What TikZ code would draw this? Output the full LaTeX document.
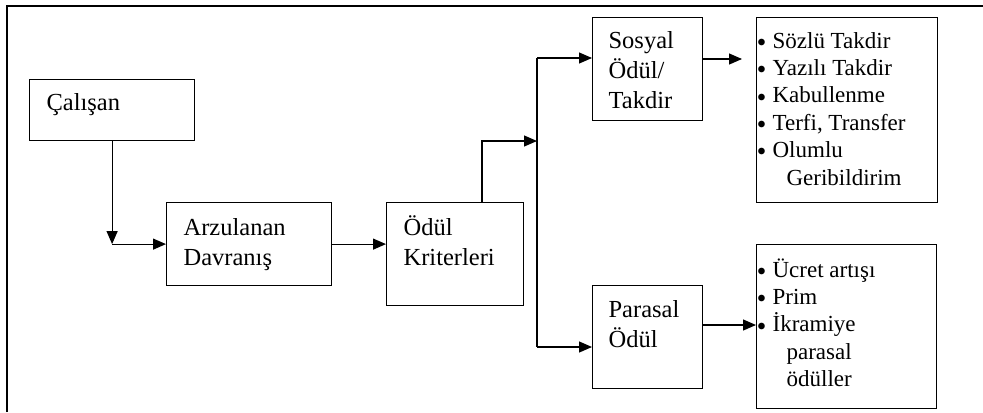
\documentclass[tikz,border=0pt]{standalone}
\usepackage{fontspec}
\setmainfont{Liberation Serif}
\usetikzlibrary{arrows.meta}

% small bullet and first-line-baseline text block
\newcommand\madde{\makebox[7pt][l]{\hspace*{-0.6pt}\raisebox{0.9pt}{\fontsize{8.5}{8.5}\selectfont$\bullet$}}}
\newcommand\metin[1]{\parbox[t]{88pt}{\raggedright #1}}

\begin{document}
\begin{tikzpicture}
  [x=0.5pt,y=-0.5pt,line width=0.6pt]
  \tikzstyle{kutu} = [draw,shape=rectangle,anchor=north west,inner sep=0pt]
  \tikzstyle{yazi} = [anchor=base west,inner sep=0pt,font=\fontsize{12.25}{15}\selectfont]
  \tikzstyle{liste} = [anchor=base west,inner sep=0pt,font=\fontsize{11.5}{13.7}\selectfont]
  \tikzstyle{ok} = [-{Triangle[length=6.5pt,width=5.5pt]}]
  \useasboundingbox (0,0) rectangle (983,412);

  % frame
  \draw[line width=1.1pt] (7,412) -- (7,6) -- (983,6);

  % boxes
  \foreach \isim/\x/\y/\w/\h in {calisan/29/79/165/61, arzu/166/202/165/83,
      kriter/386/202/137/103, sosyal/592/17/110/103, parasal/592/285/110/103,
      sosyalliste/756/17/181/185, parasalliste/756/244/180/164}
    \node[kutu,minimum width=\w*0.5pt,minimum height=\h*0.5pt] (\isim) at (\x,\y) {};

  % texts
  \node[yazi] (t1) at ([shift={(17,31)}]calisan.north west) {\metin{Çalışan}};
  \node[yazi] (t2) at ([shift={(17,33)}]arzu.north west) {\metin{Arzulanan\\Davranış}};
  \node[yazi] (t3) at ([shift={(17,33)}]kriter.north west) {\metin{Ödül\\Kriterleri}};
  \node[yazi] (t4) at ([shift={(16,31)}]sosyal.north west) {\metin{Sosyal\\Ödül/\\Takdir}};
  \node[yazi] (t5) at ([shift={(16,32)}]parasal.north west) {\metin{Parasal\\Ödül}};
  \node[liste] (t6) at ([shift={(2,31)}]sosyalliste.north west)
    {\metin{\madde Sözlü Takdir\\\madde Yazılı Takdir\\\madde Kabullenme\\
      \madde Terfi, Transfer\\\madde Olumlu\\\hspace*{14pt}Geribildirim}};
  \node[liste] (t7) at ([shift={(2,33)}]parasalliste.north west)
    {\metin{\madde Ücret artışı\\\madde Prim\\\madde İkramiye\\
      \hspace*{14pt}parasal\\\hspace*{14pt}ödüller}};

  % connectors
  \coordinate (dirsek) at (calisan.south |- arzu.west);
  \coordinate (kriterust) at ([shift={(96,0)}]kriter.north west);
  \coordinate (catal) at (537,141);
  \coordinate (catalust) at (537,58);
  \coordinate (catalalt) at (537,347);
  \coordinate (sosyalcikis) at ([shift={(0,42)}]sosyal.north east);
  \coordinate (parasalcikis) at ([shift={(0,40)}]parasal.north east);

  \draw[ok] (calisan.south) -- (dirsek);
  \draw[ok] (dirsek) -- (arzu.west);
  \draw[ok] (arzu.east) -- (arzu.east -| kriter.west);
  \draw[ok] (kriterust) |- (catal);
  \draw (catalust) -- (catalalt);
  \draw[ok] (catalust) -- (catalust -| sosyal.west);
  \draw[ok] (catalalt) -- (catalalt -| parasal.west);
  \draw[ok,shorten >=7pt] (sosyalcikis) -- (sosyalcikis -| sosyalliste.west);
  \draw[ok] (parasalcikis) -- (parasalcikis -| parasalliste.west);
\end{tikzpicture}
\end{document}
